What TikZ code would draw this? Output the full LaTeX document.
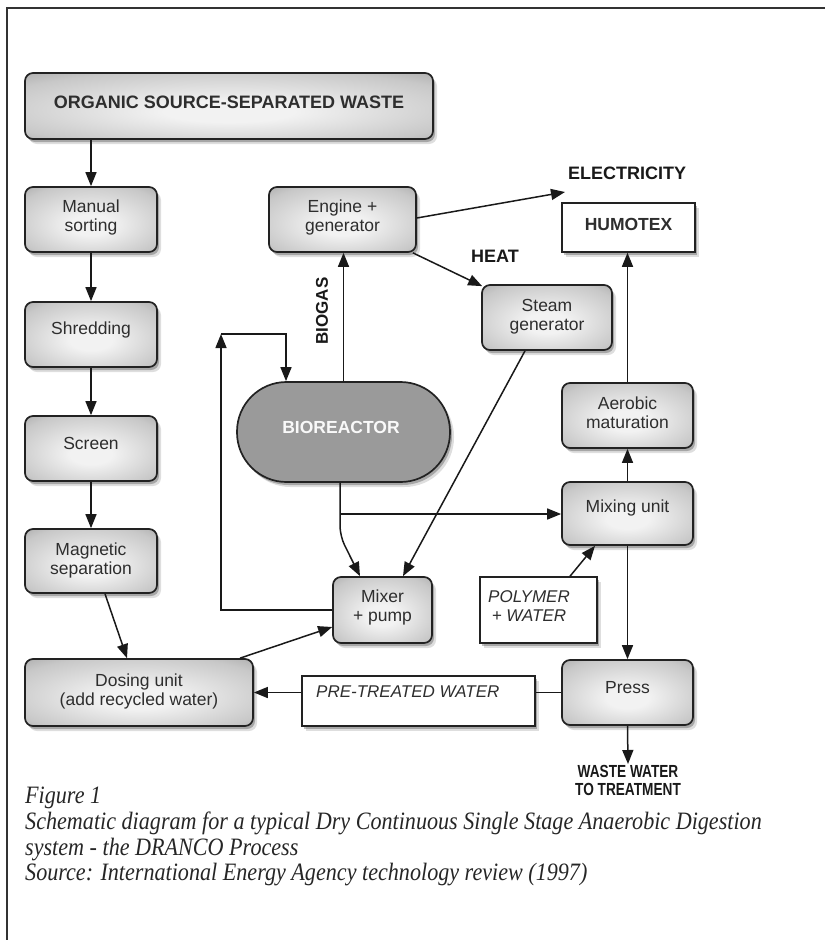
\documentclass[tikz,border=0pt]{standalone}
\usepackage{fontspec}
\setmainfont{Liberation Serif}
\setsansfont{Liberation Sans}
\newfontfamily\capfont[FakeStretch=0.885]{Liberation Serif}
\newfontfamily\narrowsans[FakeStretch=0.78]{Liberation Sans}
\usetikzlibrary{shadows,arrows.meta,calc}
\definecolor{boxin}{HTML}{F2F2F2}
\definecolor{boxmid}{HTML}{C8C8C8}
\definecolor{boxout}{HTML}{808080}
\definecolor{txt}{HTML}{2E2E2E}
\definecolor{edgec}{HTML}{222222}
\definecolor{reactor}{HTML}{9A9A9A}
\pgfdeclareradialshading{boxshade}{\pgfpoint{0bp}{-5bp}}{color(0bp)=(boxin); color(8bp)=(boxin); color(30bp)=(boxmid); color(50bp)=(boxout)}
\begin{document}
\begin{tikzpicture}[x=1pt,y=-1pt,
  shadowed/.style={drop shadow={shadow xshift=2pt,shadow yshift=-3pt,opacity=0.25,fill=black},
                   drop shadow={shadow xshift=4pt,shadow yshift=-5pt,opacity=0.13,fill=black}},
  gbox/.style={draw=edgec, line width=1.7pt, rounded corners=8pt, shade, shading=boxshade,
               inner sep=0pt, shadowed},
  wbox/.style={draw=edgec, line width=1.5pt, fill=white, inner sep=0pt, shadowed},
  btxt/.style={font=\sffamily\fontsize{17.5}{19}\selectfont, text=txt, align=center, inner sep=0pt},
  bold/.style={font=\sffamily\bfseries\fontsize{18}{20}\selectfont, text=black!90, inner sep=0pt},
  itxt/.style={font=\sffamily\itshape\fontsize{17}{19}\selectfont, text=txt, align=center, inner sep=0pt},
  captxt/.style={font=\capfont\itshape\fontsize{25}{26}\selectfont, text=black!85, inner sep=0pt, anchor=base west},
  arr/.style={-{Triangle[length=14pt,width=11pt]}, line width=1.5pt, draw=black!90},
  ln/.style={line width=1.5pt, draw=black!90}
]
\useasboundingbox (0,0) rectangle (825,940);
\draw[line width=1.3pt, black!80] (7,940) -- (7,8) -- (825,8);

% left column
\node[gbox, minimum width=408pt, minimum height=66pt] (organic) at (229,106) {};
\node[bold, text=txt] (organicT) at (229,102) {ORGANIC SOURCE-SEPARATED WASTE};
\node[gbox, minimum width=132pt, minimum height=65pt] (manual) at (91,219.5) {};
\node[btxt] (manualT) at (91,217.5) {Manual\\sorting};
\node[gbox, minimum width=132pt, minimum height=65pt] (shred) at (91,334.5) {};
\node[btxt] (shredT) at (91,330) {Shredding};
\node[gbox, minimum width=132pt, minimum height=65pt] (screen) at (91,448.5) {};
\node[btxt] (screenT) at (91,443) {Screen};
\node[gbox, minimum width=132pt, minimum height=64pt] (magnetic) at (91,561) {};
\node[btxt] (magneticT) at (91,560) {Magnetic\\separation};
\node[gbox, minimum width=228pt, minimum height=67pt] (dosing) at (139,692.5) {};
\node[btxt] (dosingT) at (139,691) {Dosing unit\\(add recycled water)};

% middle
\node[gbox, minimum width=147pt, minimum height=65pt] (engine) at (342.5,219.5) {};
\node[btxt] (engineT) at (342.5,217.5) {Engine +\\generator};
\node[gbox, minimum width=130pt, minimum height=65pt] (steam) at (547,317.5) {};
\node[btxt] (steamT) at (547,317) {Steam\\generator};
\node[draw=edgec, line width=1.7pt, fill=reactor, rounded corners=49.5pt, inner sep=0pt,
      minimum width=213pt, minimum height=100pt, shadowed] (bioreactor) at (343.5,432) {};
\node[bold, text=white!95!gray, font=\sffamily\bfseries\fontsize{17.5}{19}\selectfont] (bioreactorT) at (341,427) {BIOREACTOR};
\node[gbox, minimum width=99pt, minimum height=66pt] (mixer) at (382.5,610) {};
\node[btxt] (mixerT) at (382.5,607.5) {Mixer\\+ pump};
\node[wbox, minimum width=117pt, minimum height=66pt] (polymer) at (538.5,610) {};
\node[itxt] (polymerT) at (529,606) {POLYMER\\+ WATER};
\node[wbox, minimum width=233pt, minimum height=50pt] (pretreated) at (418.5,701) {};
\node[itxt, anchor=west] (pretreatedT) at (316,692) {PRE-TREATED WATER};

% right column
\node[wbox, minimum width=133pt, minimum height=49pt] (humotex) at (628.5,227.5) {};
\node[bold, text=txt, font=\sffamily\bfseries\fontsize{17.5}{19}\selectfont] (humotexT) at (628.5,224) {HUMOTEX};
\node[gbox, minimum width=131pt, minimum height=65pt] (aerobic) at (627.5,415.5) {};
\node[btxt] (aerobicT) at (627.5,413) {Aerobic\\maturation};
\node[gbox, minimum width=131pt, minimum height=63pt] (mixing) at (627.5,513.5) {};
\node[btxt] (mixingT) at (627.5,508) {Mixing unit};
\node[gbox, minimum width=131pt, minimum height=65pt] (press) at (627.5,692.5) {};
\node[btxt] (pressT) at (627.5,688) {Press};

% labels
\node[bold] (elec) at (627,173) {ELECTRICITY};
\node[bold] (heat) at (495,256) {HEAT};
\node[bold, rotate=90, font=\sffamily\bfseries\fontsize{17}{19}\selectfont] (biogas) at (322,311) {BIOGAS};
\node[font=\narrowsans\bfseries\fontsize{17.5}{18.5}\selectfont, text=black!90, align=center, inner sep=1pt, anchor=north] (waste) at (628,764) {WASTE WATER\\TO TREATMENT};

\coordinate (elecpt) at (565,192);
\coordinate (fbA) at (221,610);
\coordinate (fbB) at (221,334);
\coordinate (fbC) at (286,334);
\coordinate (brpt) at (340,514);
\coordinate (bend) at (340,536);

% connectors
\draw[arr] (organic.south -| manual.north) -- (manual.north);
\draw[arr] (manual.south) -- (shred.north);
\draw[arr] (shred.south) -- (screen.north);
\draw[arr] (screen.south) -- (magnetic.north);
\draw[arr] ($(magnetic.south)+(14,0)$) -- ($(dosing.north)+(-12,0)$);
\draw[arr] ($(dosing.north)+(101,0)$) -- ($(mixer.west)+(0,17)$);
\draw[arr] (mixer.west) -- (fbA) -- (fbB);
\draw[arr] (fbB) -- (fbC) -- (fbC |- bioreactor.north);
\draw[arr] (bioreactor.north) -- (bioreactor.north |- engine.south);
\draw[arr] ($(engine.east)+(0,-1.5)$) -- (elecpt);
\draw[arr] ($(engine.south east)+(-4,0)$) -- ($(steam.north west)+(1,2)$);
\draw[arr] ($(steam.south)+(-22,0)$) -- ($(mixer.north)+(20.5,0)$);
\draw[arr, rounded corners=10pt] ($(bioreactor.south)+(-3.5,0)$) -- (bend) -- ($(mixer.north)+(-22.5,0)$);
\draw[arr] (brpt) -- (brpt -| mixing.west);
\draw[arr] (mixing.north) -- (aerobic.south);
\draw[arr] (aerobic.north) -- (aerobic.north |- humotex.south);
\draw[arr] ($(polymer.north)+(31.5,0)$) -- ($(mixing.south)+(-32.5,0)$);
\draw[arr] (mixing.south) -- (press.north);
\draw[ln] (press.west) -- (press.west -| pretreated.east);
\draw[arr] (press.west -| pretreated.west) -- (dosing.east);
\draw[arr] (press.south) -- (waste.north);

% caption
\node[captxt] (cap1) at (25,803) {Figure 1};
\node[captxt] (cap2) at (25,829) {Schematic diagram for a typical Dry Continuous Single Stage Anaerobic Digestion};
\node[captxt] (cap3) at (25,855) {system - the DRANCO Process};
\node[captxt] (cap4) at (25,880) {Source: International Energy Agency technology review (1997)};
\end{tikzpicture}
\end{document}
